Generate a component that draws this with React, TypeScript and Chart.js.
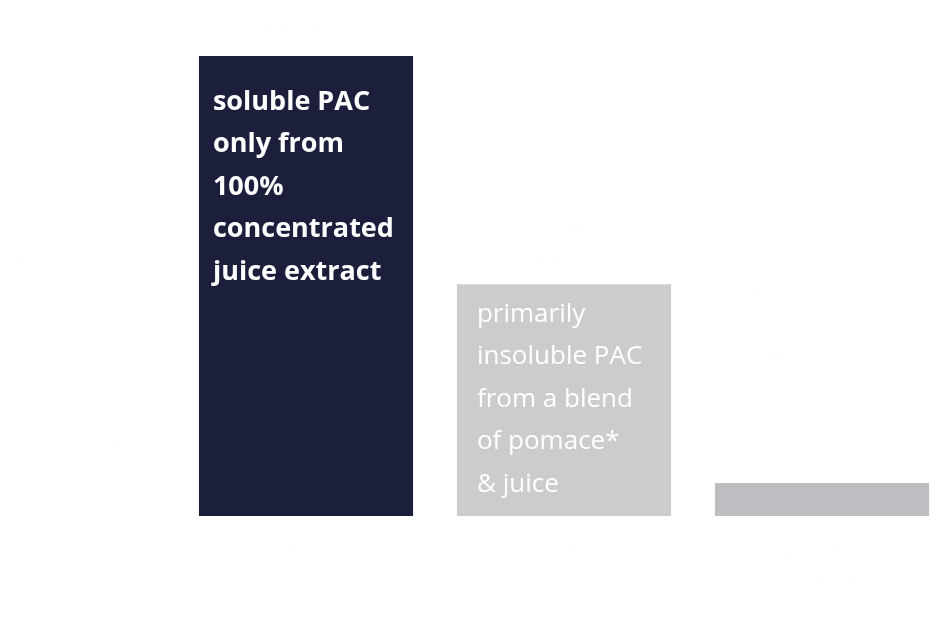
import React, { useEffect, useRef } from "react";
import { Chart, registerables } from "chart.js";

Chart.register(...registerables);

const categories = ["36 mg/day", "18 mg/day", ["2 mg/day", "other brands"]];
const values = [100, 50.4, 7.2];
const barColors = ["#1b1f3b", "#cccccc", "#bdbdc2"];
const barTexts = [
  ["soluble PAC", "only from", "100%", "concentrated", "juice extract"],
  ["primarily", "insoluble PAC", "from a blend", "of pomace*", "& juice"],
  [],
];
const valueLabels = [["Our extract"], ["Leading", "competitor"], ["Typical", "cranberry", "capsule"]];
const yTickLabels = ["100%", "50%", "25%", "10%"];
const footnote = "*Pomace = the skins, seeds and stems left over after the juice is pressed";

const FAINT = "#fefefe";

const textPlugin = {
  id: "barTexts",
  afterDatasetsDraw(chart: any) {
    const ctx = chart.ctx as CanvasRenderingContext2D;
    const meta = chart.getDatasetMeta(0);
    const x = chart.scales.x;
    const y = chart.scales.y;
    ctx.save();
    ctx.textBaseline = "middle";
    meta.data.forEach((bar: any, i: number) => {
      const left = bar.x - bar.width / 2;
      const lines = barTexts[i];
      const bold = i === 0;
      ctx.font = `${bold ? "bold 27px" : "26px"} 'Open Sans'`;
      ctx.fillStyle = "#ffffff";
      ctx.textAlign = "left";
      const offX = i === 0 ? 14 : 20;
      const offY = i === 0 ? 46 : 30;
      lines.forEach((ln, k) => {
        ctx.fillText(ln, left + offX, bar.y + offY + k * 42.5);
      });
      // faint value labels
      ctx.fillStyle = FAINT;
      ctx.font = "20px 'Open Sans'";
      const vl = valueLabels[i];
      if (i === 2) {
        ctx.textAlign = "left";
        vl.forEach((ln, k) => ctx.fillText(ln, left + 8, y.getPixelForValue(values[1]) + 12 + k * 30));
      } else {
        ctx.textAlign = "center";
        const n = vl.length;
        vl.forEach((ln, k) => ctx.fillText(ln, bar.x, bar.y - 28 - (n - 1 - k) * 30));
      }
      // category labels
      const cat = categories[i];
      const catLines = Array.isArray(cat) ? cat : [cat];
      ctx.textAlign = "center";
      ctx.font = "18px 'Open Sans'";
      catLines.forEach((ln, k) => ctx.fillText(ln, x.getPixelForValue(i), y.getPixelForValue(0) + 33 + k * 30));
    });
    // faint y labels
    ctx.textAlign = "right";
    ctx.font = "18px 'Open Sans'";
    ctx.fillStyle = FAINT;
    const tickVals = [100, 56.6, 31, 15];
    yTickLabels.forEach((t, k) => ctx.fillText(t, 146, y.getPixelForValue(tickVals[k])));
    // y title
    ctx.save();
    ctx.translate(16, (y.top + y.bottom) / 2 - 20);
    ctx.rotate(-Math.PI / 2);
    ctx.textAlign = "center";
    ctx.fillText("PAC content per serving", 0, 0);
    ctx.restore();
    // footnote
    ctx.textAlign = "right";
    ctx.font = "16px 'Open Sans'";
    ctx.fillText(footnote, 930, 625);
    ctx.restore();
  },
};

export default function App() {
  const ref = useRef<HTMLCanvasElement | null>(null);
  useEffect(() => {
    if (!ref.current) return;
    const chart = new Chart(ref.current, {
      type: "bar",
      data: {
        labels: categories as any,
        datasets: [
          {
            data: values,
            backgroundColor: barColors,
            borderWidth: 0,
            categoryPercentage: 1,
            barPercentage: 0.83,
          },
        ],
      },
      options: {
        responsive: false,
        animation: false,
        devicePixelRatio: 1,
        layout: { padding: { left: 177, top: 56, right: 0, bottom: 122 } },
        plugins: { legend: { display: false }, tooltip: { enabled: false } },
        scales: {
          x: { display: false },
          y: { display: false, min: 0, max: 100 },
        },
      },
      plugins: [textPlugin],
    });
    return () => chart.destroy();
  }, []);
  return (
    <div style={{ position: "absolute", left: 0, top: 0, width: 951, height: 638, background: "#ffffff" }}>
      <canvas ref={ref} width={951} height={638} style={{ display: "block" }} />
    </div>
  );
}
